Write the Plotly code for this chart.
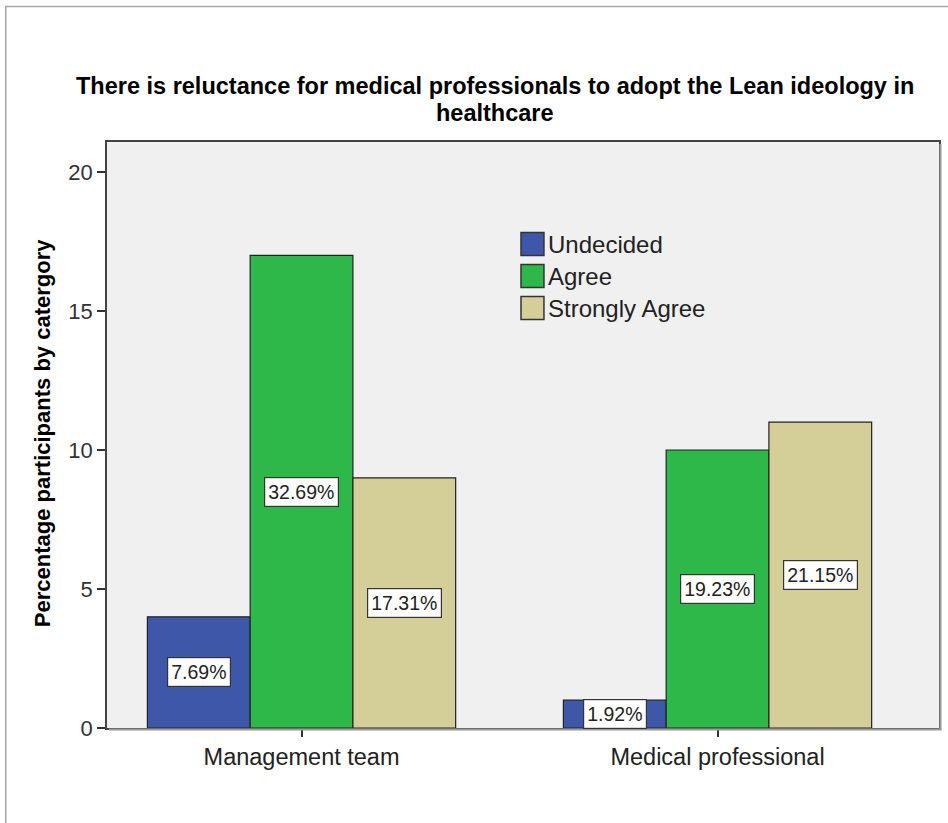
import plotly.graph_objects as go

# Survey counts by respondent group
groups = ["Management team", "Medical professional"]
responses = ["Undecided", "Agree", "Strongly Agree"]
counts = {
    "Undecided": [4, 1],
    "Agree": [17, 10],
    "Strongly Agree": [9, 11],
}
colors = {
    "Undecided": "#3e57a8",
    "Agree": "#2fb84a",
    "Strongly Agree": "#d4cf99",
}
y_ticks = [0, 5, 10, 15, 20]
title_lines = [
    "There is reluctance for medical professionals to adopt the Lean ideology in",
    "healthcare",
]

total = sum(sum(v) for v in counts.values())

W, H = 948, 823
L, R, T, B = 107, 7, 142, 95
pw, ph = W - L - R, H - T - B


def px_x(x):
    return (x - L) / pw


def px_y(y):
    return 1 - (y - T) / ph


font_family = "Liberation Sans, Arial, sans-serif"
edge = "#222222"

fig = go.Figure()
xpos = list(range(len(groups)))
for r in responses:
    fig.add_trace(go.Bar(
        name=r,
        x=xpos,
        y=counts[r],
        marker=dict(color=colors[r], line=dict(color=edge, width=1.2)),
        showlegend=False,
    ))

# Percentage boxes centred in each bar
n = len(responses)
group_width = 0.741
bw = group_width / n
annotations = []
for i, r in enumerate(responses):
    for g, v in enumerate(counts[r]):
        xc = g - group_width / 2 + bw * (i + 0.5)
        annotations.append(dict(
            x=xc, y=v / 2, xref="x", yref="y",
            text=f"{v / total * 100:.2f}%",
            showarrow=False,
            font=dict(family=font_family, size=19.5, color="#222222"),
            bgcolor="#ffffff", bordercolor="#333333", borderwidth=1.2,
            borderpad=3,
        ))

# Two-line bold title
for k, line in enumerate(title_lines):
    annotations.append(dict(
        x=px_x(496), y=px_y(86 + 27 * k), xref="paper", yref="paper",
        text=f"<b>{line}</b>",
        showarrow=False, xanchor="center", yanchor="middle",
        font=dict(family=font_family, size=23.5, color="#000000"),
    ))

# Y-axis title
annotations.append(dict(
    x=px_x(43), y=px_y(433), xref="paper", yref="paper",
    text="<b>Percentage participants by catergory</b>",
    showarrow=False, textangle=-90, xanchor="center", yanchor="middle",
    font=dict(family=font_family, size=22, color="#000000"),
))

shapes = [
    # outer chart frame
    dict(type="rect", xref="paper", yref="paper",
         x0=px_x(5.5), x1=px_x(960), y0=px_y(6.5), y1=px_y(840),
         line=dict(color="#a6a6a6", width=1.5), fillcolor="rgba(0,0,0,0)",
         layer="below"),
    # plot area shadow on right and bottom
    dict(type="line", xref="paper", yref="paper",
         x0=px_x(942.5), x1=px_x(942.5), y0=px_y(144), y1=px_y(730),
         line=dict(color="#9a9a9a", width=2)),
    dict(type="line", xref="paper", yref="paper",
         x0=px_x(109), x1=px_x(943.5), y0=px_y(729.5), y1=px_y(729.5),
         line=dict(color="#9a9a9a", width=2)),
]

# Legend: coloured swatches with labels inside the plot area
for k, r in enumerate(responses):
    cy = 244 + 32 * k
    shapes.append(dict(
        type="rect", xref="paper", yref="paper",
        x0=px_x(522), x1=px_x(545), y0=px_y(cy - 11.5), y1=px_y(cy + 11.5),
        fillcolor=colors[r], line=dict(color="#333333", width=1.5),
    ))
    annotations.append(dict(
        x=px_x(547), y=px_y(cy), xref="paper", yref="paper",
        text=r, showarrow=False, xanchor="left", yanchor="middle",
        font=dict(family=font_family, size=24, color="#222222"),
    ))

fig.update_layout(
    width=W, height=H,
    margin=dict(l=L, r=R, t=T, b=B),
    paper_bgcolor="#ffffff",
    plot_bgcolor="#f0f0f0",
    barmode="group",
    bargap=1 - group_width,
    bargroupgap=0,
    font=dict(family=font_family, color="#333333"),
    annotations=annotations,
    shapes=shapes,
    showlegend=False,
    xaxis=dict(
        range=[(L - 302) / 417, (L + pw - 302) / 417],
        tickmode="array", tickvals=xpos, ticktext=groups,
        ticks="outside", ticklen=7, tickcolor="#333333", tickwidth=1.5,
        tickfont=dict(family=font_family, size=23.5, color="#222222"),
        showline=True, linecolor="#444444", linewidth=1.5, mirror=True,
        showgrid=False, zeroline=False, fixedrange=True,
    ),
    yaxis=dict(
        range=[0, (728 - 142) / 27.8],
        tickmode="array", tickvals=y_ticks,
        ticks="outside", ticklen=8, tickcolor="#333333", tickwidth=1.5,
        tickfont=dict(family=font_family, size=22, color="#333333"),
        showline=True, linecolor="#444444", linewidth=1.5, mirror=True,
        showgrid=False, zeroline=False, fixedrange=True,
    ),
)

fig.write_html("out.html", config={"displayModeBar": False})
